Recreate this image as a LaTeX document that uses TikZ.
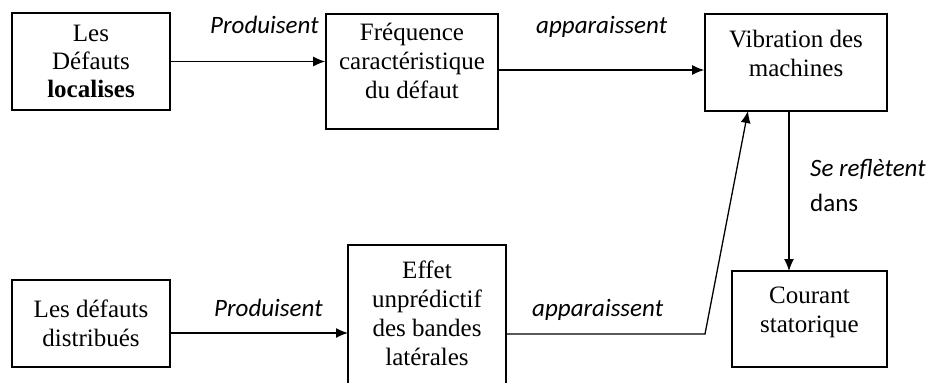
\documentclass[tikz,border=0pt]{standalone}
\usepackage{fontspec}
\setmainfont{Liberation Serif}
\newfontfamily\lblfont{Carlito}
\usetikzlibrary{arrows.meta}
\begin{document}
\begin{tikzpicture}[x=1pt,y=-1pt,
  box/.style={draw,line width=1.6pt,align=center,inner sep=0pt,
    font=\fontsize{25}{29}\selectfont},
  arr/.style={line width=1.3pt,-{Latex[length=12pt,width=10pt]}},
  lbl/.style={font=\lblfont\itshape\fontsize{25}{29}\selectfont,inner sep=0pt}]
\useasboundingbox[fill=white] (0,0) rectangle (935,383);
\clip (0,0) rectangle (935,383);
% boxes
\node[box,minimum width=158pt,minimum height=97pt,font=\fontsize{25}{28}\selectfont] (A) at (91,61.5)
  {Les\\Défauts\\\textbf{localises}};
\node[box,minimum width=172pt,minimum height=115pt] (B) at (412,71.5)
  {Fréquence\\caractéristique\\du défaut\\[-17pt]\strut};
\node[box,minimum width=182pt,minimum height=97pt] (C) at (796,62.5)
  {Vibration des\\machines\\[-19pt]\strut};
\node[box,minimum width=158pt,minimum height=87pt] (D) at (91,323.5)
  {Les défauts\\distribués};
\node[box,minimum width=158pt,minimum height=150pt] (E) at (427,320)
  {Effet\\unprédictif\\des bandes\\latérales\\[-25pt]\strut};
\node[box,minimum width=155pt,minimum height=96pt] (F) at (809.5,319)
  {Courant\\statorique\\[-20pt]\strut};
% helper coordinates
\coordinate (d1) at (170,333);
\coordinate (d2) at (348,333);
\coordinate (e1) at (506,334);
\coordinate (e2) at (705,334);
\coordinate (c1) at (748,111);
\coordinate (c2) at (789,111);
\coordinate (f1) at (789,271);
% connectors
\draw[arr] (A.east) -- (B.west |- A.east);
\draw[arr] (B.east |- 0,70) -- (C.west |- 0,70);
\draw[arr] (d1) -- (d2);
\draw[arr] (e1) -- (e2) -- (c1);
\draw[arr] (c2) -- (f1);
% labels
\node[lbl,anchor=base west] (l1) at (210,33) {Produisent};
\node[lbl,anchor=base west] (l2) at (536,33) {apparaissent};
\node[lbl,anchor=base west] (l3) at (214,316) {Produisent};
\node[lbl,anchor=base west] (l4) at (532,316) {apparaissent};
\node[lbl,anchor=base west] (l5) at (810,176) {Se reflètent};
\node[lbl,anchor=base west,font=\lblfont\fontsize{25}{29}\selectfont] (l6) at (810,211) {dans};
\end{tikzpicture}
\end{document}
